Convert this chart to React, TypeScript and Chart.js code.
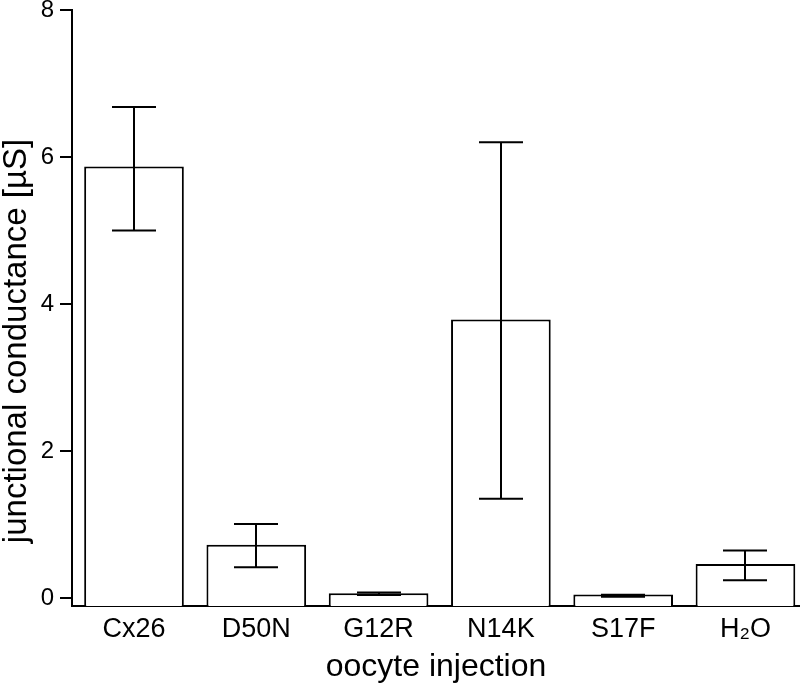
import React, { useEffect, useRef } from "react";
import { Chart, registerables } from "chart.js";

Chart.register(...registerables);

const categories = ["Cx26", "D50N", "G12R", "N14K", "S17F", "H₂O"];
const meanValues = [5.87, 0.725, 0.065, 3.79, 0.048, 0.463];
const errHigh = [6.68, 1.007, 0.075, 6.2, 0.042, 0.644];
const errLow = [5.0, 0.418, 0.04, 1.35, 0.015, 0.24];
const yTicks = [0, 2, 4, 6, 8];
const yTitle = "junctional conductance [µS]";
const xTitle = "oocyte injection";

const Y_MIN = -0.11;
const Y_MAX = 8;
const FONT = "'Liberation Sans', Arial, Helvetica, sans-serif";

const errorBarPlugin = {
  id: "errorBars",
  afterDatasetsDraw(chart: any, _args: any, opts: any) {
    const { ctx, scales } = chart;
    const x = scales.x;
    const y = scales.y;
    const half = opts.capWidth / 2;
    ctx.save();
    ctx.strokeStyle = "#000";
    ctx.lineWidth = 2;
    categories.forEach((_, i) => {
      const px = Math.round(x.getPixelForValue(i));
      const top = y.getPixelForValue(errHigh[i]);
      const bot = y.getPixelForValue(errLow[i]);
      ctx.beginPath();
      ctx.moveTo(px, top);
      ctx.lineTo(px, bot);
      ctx.moveTo(px - half, top);
      ctx.lineTo(px + half, top);
      ctx.moveTo(px - half, bot);
      ctx.lineTo(px + half, bot);
      ctx.stroke();
    });
    ctx.restore();
  },
};

const yTitlePlugin = {
  id: "yTitle",
  afterDraw(chart: any, _args: any, opts: any) {
    const { ctx } = chart;
    ctx.save();
    ctx.translate(opts.x, opts.y);
    ctx.rotate(-Math.PI / 2);
    ctx.fillStyle = "#000";
    ctx.font = `${opts.size}px ${FONT}`;
    ctx.textAlign = "center";
    ctx.textBaseline = "middle";
    ctx.fillText(yTitle, 0, 0);
    ctx.restore();
  },
};

export default function App() {
  const ref = useRef<HTMLCanvasElement | null>(null);

  useEffect(() => {
    if (!ref.current) return;
    const chart = new Chart(ref.current, {
      type: "bar",
      data: {
        datasets: [
          {
            data: meanValues.map((v, i) => ({ x: i, y: v })),
            backgroundColor: "#ffffff",
            borderColor: "#000000",
            borderWidth: 2,
            borderSkipped: "start",
            base: Y_MIN,
            barPercentage: 0.815,
            categoryPercentage: 1,
          } as any,
        ],
      },
      plugins: [errorBarPlugin, yTitlePlugin],
      options: {
        animation: false,
        responsive: false,
        maintainAspectRatio: false,
        layout: { padding: 0 },
        plugins: {
          legend: { display: false },
          tooltip: { enabled: false },
          errorBars: { capWidth: 44 },
          yTitle: { x: 17, y: 341, size: 33 },
        } as any,
        scales: {
          x: {
            type: "linear",
            offset: false,
            min: -0.507,
            max: 5.446,
            afterBuildTicks: (axis: any) => {
              axis.ticks = categories.map((_, i) => ({ value: i }));
            },
            afterFit: (s: any) => {
              s.height = 80;
              s.paddingLeft = 0;
              s.paddingRight = 0;
            },
            grid: { display: false, drawTicks: false, offset: false },
            border: { display: true, color: "#000", width: 2 },
            ticks: {
              autoSkip: false,
              maxRotation: 0,
              color: "#000",
              padding: 7,
              font: { family: FONT, size: 27 },
              callback: (v: any) => categories[v as number] ?? "",
            },
            title: {
              display: true,
              text: xTitle,
              color: "#000",
              font: { family: FONT, size: 32 },
              padding: { top: 0, bottom: 0 },
            },
          },
          y: {
            type: "linear",
            min: Y_MIN,
            max: Y_MAX,
            afterBuildTicks: (axis: any) => {
              axis.ticks = yTicks.map((v) => ({ value: v }));
            },
            afterFit: (s: any) => {
              s.width = 72;
              s.paddingTop = 10;
              s.paddingBottom = 0;
            },
            grid: {
              display: true,
              drawOnChartArea: false,
              drawTicks: true,
              tickLength: 12,
              color: "#000",
              lineWidth: 2,
            },
            border: { display: true, color: "#000", width: 2 },
            ticks: {
              color: "#000",
              padding: 6,
              font: { family: FONT, size: 24 },
            },
          },
        },
      },
    });
    return () => chart.destroy();
  }, []);

  return (
    <div style={{ position: "fixed", left: 0, top: 0, width: 800, height: 686, background: "#fff" }}>
      <canvas ref={ref} width={800} height={686} style={{ width: 800, height: 686, display: "block" }} />
    </div>
  );
}
